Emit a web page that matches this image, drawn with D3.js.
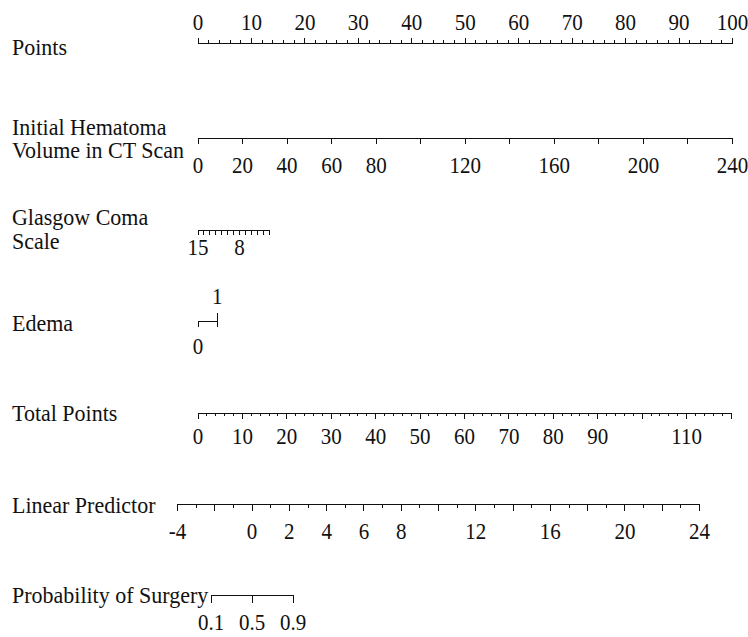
<!DOCTYPE html>
<html lang="en">
<head>
<meta charset="UTF-8">
<title>Nomogram - Probability of Surgery</title>
<script src="https://d3js.org/d3.v7.min.js"></script>
<style>
    body { margin: 0; background: #fff; }
    text {
        font-family: 'Liberation Serif', 'Times New Roman', serif;
        fill: #111;
        transform-box: fill-box;
        transform-origin: center;
        transform: scaleY(1.05);
    }
    .name { font-size: 22px; }
    .axis text { font-size: 21px; transform: scaleY(1.12); }
    .axis path, .axis line { stroke: #111; stroke-width: 1; shape-rendering: crispEdges; }
</style>
</head>
<body>
<svg id="nomo" width="748" height="637"></svg>
<script>
    // variable names (one entry per row, multi-line names as arrays)
    const rowNames = [
        ["Points"],
        ["Initial Hematoma", "Volume in CT Scan"],
        ["Glasgow Coma", "Scale"],
        ["Edema"],
        ["Total Points"],
        ["Linear Predictor"],
        ["Probability of Surgery"]
    ];

    // points scale
    const pointsTicks = d3.range(0, 101, 2);
    const pointsLabels = [0, 10, 20, 30, 40, 50, 60, 70, 80, 90, 100];

    // hematoma volume (240 -> 100 points)
    const hemaTicks = [0, 20, 40, 60, 80, 100, 120, 140, 160, 180, 200, 220, 240];
    const hemaLabels = [0, 20, 40, 60, 80, 120, 160, 200, 240];
    const hemaMaxPoints = 100;

    // GCS (15 -> 0 points, 3 -> max)
    const gcsTicks = [15, 14, 13, 12, 11, 10, 9, 8, 7, 6, 5, 4, 3];
    const gcsLabels = [15, 8];
    const gcsMaxPoints = 13.3;

    // edema
    const edemaLevels = [0, 1];
    const edemaPoints = 3.6;

    // total points
    const totalTicks = d3.range(0, 121, 2);
    const totalLabels = [0, 10, 20, 30, 40, 50, 60, 70, 80, 90, 110];
    const totalMax = 120;

    // linear predictor
    const lpTicks = d3.range(-4, 25, 1);
    const lpLabels = [-4, 0, 2, 4, 6, 8, 12, 16, 20, 24];

    // probability
    const probLabels = [0.1, 0.5, 0.9];

    const svg = d3.select("#nomo");

    // layout
    const rowY = {points: 43, hema: 138, gcs: 229.5, edema: 320.5, total: 412.5, lp: 504, prob: 595};
    const nameY = [[47], [127, 150.5], [217, 241], [323], [413], [505], [595]];
    const x0 = 197.5, x100 = 732;

    const px = d3.scaleLinear().domain([0, 100]).range([x0, x100]);
    const hemaX = d3.scaleLinear().domain([0, 240]).range([px(0), px(hemaMaxPoints)]);
    const gcsX = d3.scaleLinear().domain([15, 3]).range([px(0), px(gcsMaxPoints)]);
    const edemaX = d3.scaleLinear().domain([0, 1]).range([px(0), px(edemaPoints)]);
    const totalX = d3.scaleLinear().domain([0, totalMax]).range([x0, 730.5]);
    const lpX = d3.scaleLinear().domain([-4, 24]).range([177, 699]);
    const logit = p => Math.log(p / (1 - p));
    const probX = lpX.copy()
        .domain([logit(probLabels[0]), logit(probLabels[2])])
        .range([lpX(logit(probLabels[0])), lpX(logit(probLabels[2]))]);

    function drawAxis(scale, y, top, ticks, labels, isMajor, majorLen, minorLen, labelY, fmt) {
        const ax = (top ? d3.axisTop(scale) : d3.axisBottom(scale))
            .tickValues(ticks)
            .tickSizeOuter(0)
            .tickSize(minorLen)
            .tickFormat(d => labels.some(l => Math.abs(l - d) < 1e-9) ? (fmt ? fmt(d) : d) : "");
        const g = svg.append("g")
            .attr("class", "axis")
            .attr("transform", `translate(0,${y})`)
            .call(ax);
        g.selectAll(".tick line")
            .attr("y2", d => (isMajor(d) ? majorLen : minorLen) * (top ? -1 : 1));
        g.selectAll(".tick text")
            .attr("y", labelY)
            .attr("dy", "0.34em");
        return g;
    }

    // row names
    rowNames.forEach((lines, i) => {
        lines.forEach((t, j) => {
            svg.append("text")
                .attr("class", "name")
                .attr("x", 12)
                .attr("y", nameY[i][j])
                .attr("dy", "0.33em")
                .text(t);
        });
    });

    drawAxis(px, rowY.points, true, pointsTicks, pointsLabels, d => d % 10 === 0, 5, 3, -21);
    drawAxis(hemaX, rowY.hema, false, hemaTicks, hemaLabels, d => true, 6, 6, 27);
    drawAxis(gcsX, rowY.gcs, false, gcsTicks, gcsLabels, d => true, 5, 5, 18);

    // edema: 0 below, 1 above
    const eg = drawAxis(edemaX, rowY.edema, false, edemaLevels, edemaLevels, d => true, 6, 6, 26);
    eg.selectAll(".tick line").attr("y2", d => d === 1 ? -8 : 6);
    eg.selectAll(".tick text").attr("y", d => d === 1 ? -24 : 26);

    drawAxis(totalX, rowY.total, false, totalTicks, totalLabels, d => d % 10 === 0, 6, 3, 24);
    drawAxis(lpX, rowY.lp, false, lpTicks, lpLabels, d => d % 2 === 0, 7, 4, 27);
    drawAxis(probX, rowY.prob, false, probLabels.map(logit), probLabels.map(logit), d => true, 8, 8, 27,
        d => d3.format(".1f")(1 / (1 + Math.exp(-d))));
</script>
</body>
</html>
